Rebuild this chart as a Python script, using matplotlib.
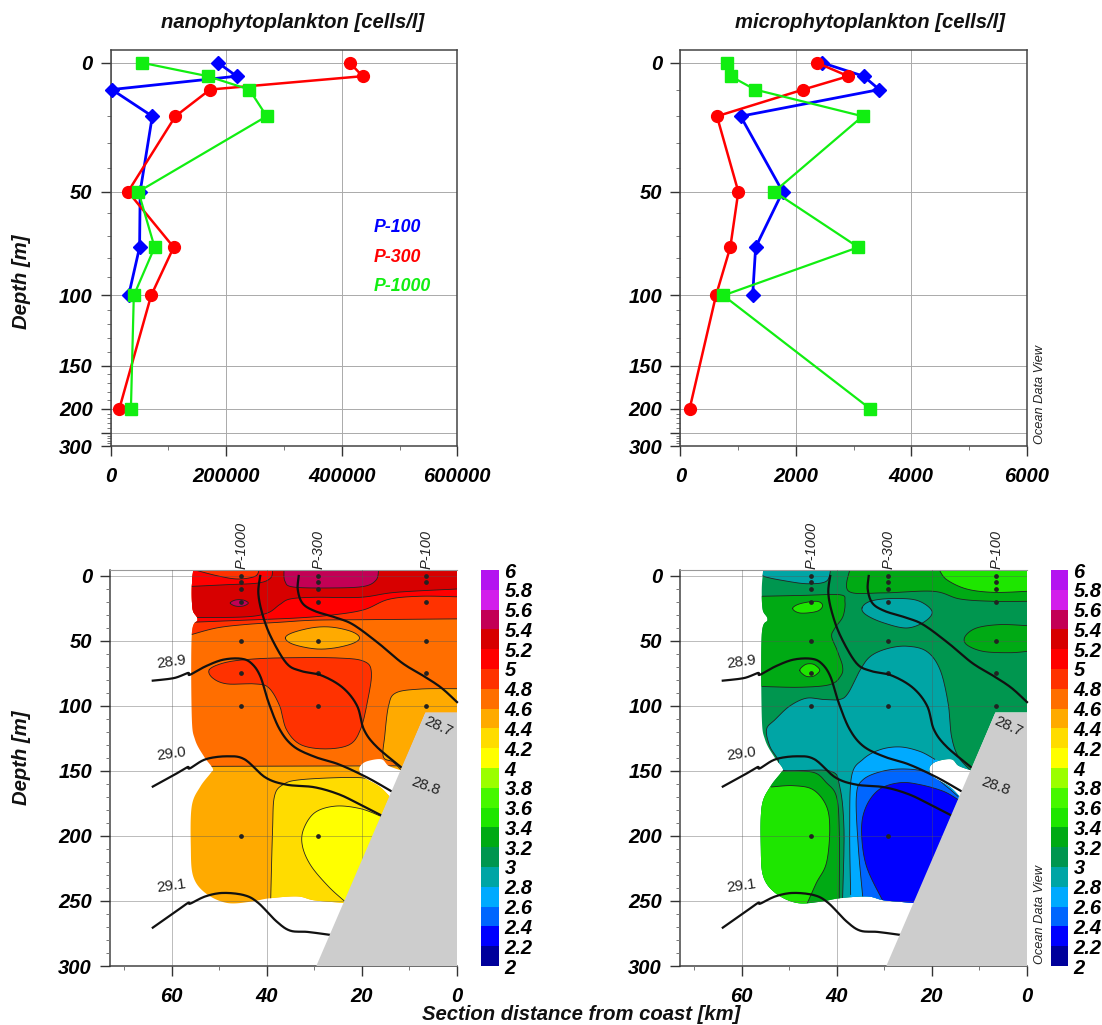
import numpy as np
import matplotlib
matplotlib.use('Agg')
import matplotlib.pyplot as plt
from matplotlib.patches import Polygon

plt.rcParams['font.family'] = ['Liberation Sans', 'DejaVu Sans']

W, H = 1102, 1025

# Profile data (top panels)
depths = [0, 5, 10, 20, 50, 75, 100, 200]
nano_p100 = [186000, 218000, 2000, 72000, 51000, 50000, 31000]
nano_p300 = [414000, 436000, 172000, 112000, 30000, 109000, 70000, 15000]
nano_p1000 = [55000, 168000, 240000, 270000, 48000, 76000, 40000, 35000]
micro_p100 = [2460, 3175, 3447, 1045, 1773, 1305, 1253]
micro_p300 = [2367, 2910, 2130, 635, 1005, 866, 618, 162]
micro_p1000 = [814, 872, 1293, 3158, 1628, 3083, 745, 3285]

# Non linear ODV depth axis of the top panels (depth -> relative position)
scale_depth = [-10, 0, 10, 20, 30, 40, 50, 60, 70, 80, 90, 100, 150, 200, 250, 300, 320]
scale_pos = [-77, 0, 80, 160, 240, 315, 386, 450, 520, 585, 642, 697, 908, 1036, 1110, 1148, 1166]

# Colour bar
cb_levels = [round(2 + 0.2 * i, 1) for i in range(21)]
cb_colors = ['#00009b', '#0000ff', '#0066ff', '#00aaff', '#00a5a5',
             '#00964f', '#00aa14', '#1ee600', '#46f800', '#9bff00',
             '#ffff00', '#ffdc00', '#ffaa00', '#ff6e00', '#ff3200',
             '#ff0000', '#d70000', '#c30055', '#d21eeb', '#b414f0']

# Sections: stations
station_km = [45.4, 29.2, 6.5]
station_names = ['P-1000', 'P-300', 'P-100']
nano_station_depths = [[0, 5, 10, 20, 50, 75, 100, 200], [0, 5, 10, 20, 50, 75, 100, 200], [0, 5, 20, 50, 75, 100]]
micro_station_depths = [[0, 5, 10, 20, 50, 75, 100, 200], [0, 5, 10, 20, 50, 75, 100, 200], [0, 5, 10, 20, 50, 75, 100]]

# Bottom topography
terrain = [(29.6, 300), (6.65, 105), (0, 105), (0, 300)]

# Limit of the gridded field (km, depth)
domain_left = [(55.5, -4.6), (55.8, 10), (55.6, 26), (54.6, 33.6), (55.8, 45), (55.8, 108), (55.1, 126),
               (53.2, 139), (51.4, 148), (51.8, 151.5), (54, 162), (55.8, 177), (56, 208), (55.5, 231),
               (52.9, 244), (48.4, 251.5), (43.3, 250.5), (39.6, 248), (33.6, 246.5), (30, 249.5), (23.7, 251.5)]
domain_notch = [(14.2, 169.5), (16.3, 162), (19.6, 155), (20.5, 150), (20.3, 146), (18.9, 142.5), (15.9, 141),
                (14.4, 146), (11.8, 149.5)]
domain_right = [(6.65, 105), (0, 105), (0, -4.6)]

# Isopycnals, same in both sections
iso_287 = [(33.3, 0), (33.5, 10.5), (32.5, 21), (29.9, 27), (25.5, 32), (21.8, 37.5), (16.6, 51.5),
           (11.5, 67), (7, 77), (3.3, 86), (0, 97)]
iso_288 = [(41.4, 0), (41.8, 13), (41, 28.5), (39.2, 46.5), (35.9, 67), (32.9, 73), (28.5, 76.5),
           (24, 86), (21, 100), (19.6, 118), (17, 131), (11.8, 147)]
iso_289 = [(64, 80.5), (59.5, 78.5), (56.6, 74.6), (56.2, 76), (52.9, 69.5), (49.2, 64.4), (45.5, 63.6),
           (43.3, 67), (41.4, 77), (39.6, 97.7), (37.3, 118), (34.4, 131), (30, 139), (24.8, 145),
           (18.9, 155), (13.8, 165.6)]
iso_290 = [(64, 162), (59.5, 153), (56.7, 147), (56.2, 148), (52.9, 141), (48.4, 138.7), (44.7, 141),
           (40.3, 155), (35.9, 160.5), (30, 162.5), (24.8, 168), (20.3, 176), (16, 184)]
iso_291 = [(64, 270.5), (59.5, 259), (56.6, 251.5), (56.1, 252), (52.9, 246.4), (49.2, 243.8), (44.7, 245.6),
           (41.8, 251.5), (38, 265.6), (35.1, 272.8), (31.4, 273.8), (26.8, 276)]
isolines = [iso_287, iso_288, iso_289, iso_290, iso_291]
iso_labels = [('28.9', 60, 66.4, 8), ('29.0', 60, 136.7, 8), ('29.1', 60, 238.7, 8),
              ('28.7', 4, 115.6, -25), ('28.8', 6.65, 162, -20)]

# Field regions: (band lower value, contour curve, closing points or None for a closed blob)
nano_regions = [
    (4.4, [(70, 300), (70, 146)], [(0, 146), (0, 300)]),
    (4.6, [(60, 146.5), (10, 146)], [(0, 146), (0, -10), (60, -10)]),
    (4.8, [(55.8, 45), (50.6, 40), (44.7, 37.4), (37.3, 35.6), (29.9, 34), (18.9, 33.6), (0, 33)],
     [(0, -10), (60, -10), (60, 45)]),
    (5.0, [(55.8, 35.6), (44.7, 34), (33.6, 32.3), (26.2, 30), (19.6, 26), (14.4, 18), (7.8, 15.6), (0, 16)],
     [(0, -10), (60, -10), (60, 35.6)]),
    (5.2, [(55.8, 32), (44.7, 31.5), (39.9, 28.5), (37.3, 22), (35.1, 17.7), (29.9, 16.4), (20.3, 16.4),
           (12.9, 12.6), (0, 10)], [(0, -10), (60, -10), (60, 32)]),
    (5.0, [(55.8, 8), (48.4, 6.7), (41.8, 5.4), (39.2, 1.5), (38.8, -5)], [(38.8, -10), (60, -10), (60, 8)]),
    (4.8, [(55.5, -5), (50.6, -0.3), (46.2, 2.3), (42.5, 0.3), (41.6, -5)], [(41.6, -10), (55.5, -10)]),
    (5.4, [(36.4, -5), (36.2, 4), (34.4, 8.5), (26.2, 9.2), (19.6, 8), (17, 3), (16.5, -5)],
     [(16.5, -10), (36.4, -10)]),
    (5.4, [(47.7, 20.8), (46.9, 18.8), (45.8, 18.2), (44.7, 18.8), (43.9, 20.8), (44.7, 22.8), (45.8, 23.4), (46.9, 22.8)], None),
    (4.4, [(36.1, 47.7), (34.5, 43.5), (30, 39.6), (26, 39.5), (22, 43), (20.5, 47.7), (22, 52), (26, 55.5),
           (30, 56), (34.5, 52.5)], None),
    (4.8, [(52.1, 72), (49.2, 67), (44.7, 64.4), (37.3, 63), (25.5, 63), (19.6, 65.6), (18, 74.6), (18.9, 97.7),
           (20.3, 118), (22.6, 129.7), (27.7, 133), (32.9, 129.7), (35.9, 118), (37.3, 100), (39.6, 86),
           (42.5, 83), (48.4, 83), (51.4, 78.5)], None),
    (4.4, [(0, 86.7), (7.8, 87), (12.9, 90), (14.4, 100), (15.2, 123), (15.5, 139), (13.5, 143), (11.8, 149)],
     [(5, 150), (0, 150)]),
    (4.2, [(39.2, 250), (38.8, 195), (38.4, 169.5), (36.6, 160.5), (32.9, 156.7), (22.6, 155), (18, 157), (12.9, 167)],
     [(12.9, 300), (39.2, 300)]),
    (4.0, [(15.9, 185), (20.3, 179), (25.5, 177), (29.9, 182), (32.3, 195), (32.5, 208), (30.7, 223), (27, 239),
           (23.7, 250)], [(15, 250)]),
]

micro_regions = [
    (3.0, [(70, 300), (0, 300)], [(0, -10), (70, -10)]),
    (2.8, [(55.5, -5), (55.5, 0), (50.5, 4), (45.9, 6), (42.2, 4), (41.3, -5)], [(41.3, -10), (55.5, -10)]),
    (3.2, [(55.7, 15.6), (47.6, 15), (39.4, 14.4), (38.3, 19.5), (38.7, 31), (40.4, 40), (41.1, 46.4), (40, 56.7),
           (38.8, 69.5), (39.2, 77), (41.5, 83.6), (47.8, 85.6), (55.7, 85)], [(60, 85), (60, 15.6)]),
    (3.4, [(49.3, 25), (47.7, 21.3), (44.2, 19.5), (43, 22.8), (44.2, 27.2), (47.7, 28.5)], None),
    (3.4, [(47.8, 72.5), (46.8, 68.5), (45.7, 67.5), (44.6, 68.5), (43.6, 72.5), (44.6, 76.5), (45.7, 77.5), (46.8, 76.5)], None),
    (3.2, [(37.3, -5), (37.5, 11.8), (30.2, 13), (19.7, 11.8), (14.1, 17.7), (7, 19.5), (0, 19.5)],
     [(0, -10), (37.3, -10)]),
    (3.4, [(18.5, -5), (16.9, 2.8), (12.7, 10), (7, 12.6), (0, 11.8)], [(0, -10), (18.5, -10)]),
    (3.2, [(0, 38.2), (5.7, 37.4), (10.6, 40), (13, 46.4), (12.7, 52.8), (9.2, 58), (3.6, 59), (0, 58)], []),
    (2.8, [(34.7, 24.6), (33, 19.5), (28.8, 17.4), (23.2, 18.7), (20, 27), (21.5, 35), (25.3, 40), (30.2, 36),
           (33.8, 30)], None),
    (2.8, [(38.8, 249), (38.5, 195), (39.4, 162), (41.5, 150), (51.4, 149.5), (52.4, 141), (54.1, 131), (54.8, 118),
           (53, 110.5), (49.9, 100), (46.4, 94), (42.9, 95), (39.4, 95), (37.6, 90), (35.2, 73), (33, 62), (29.5, 56),
           (25.3, 54), (21.1, 58), (18.3, 72), (16.6, 97.7), (15.9, 123), (14.5, 138.7), (11.9, 149.5)],
     [(10, 150), (10, 300), (38.8, 300)]),
    (2.6, [(37.1, 245), (37.3, 195), (36.9, 154), (34.5, 141), (30.9, 133.6), (26.7, 131.5), (22.5, 135), (19.4, 141)],
     [(12, 150), (10, 300), (37.1, 300)]),
    (2.4, [(34.5, 249), (35.5, 208), (35.9, 169.5), (34.5, 156.7), (30.2, 150), (25.3, 148.5), (20.8, 151.5),
           (16.9, 162), (14.5, 169.5)], [(10, 300), (34.5, 300)]),
    (2.2, [(30.1, 251.5), (33.8, 223), (34.8, 195), (33.8, 177), (31, 164), (26.7, 159), (22.5, 160.5), (17.6, 165.6),
           (14.5, 172)], [(10, 300), (30.1, 300)]),
    (3.2, [(51.4, 150), (45, 151), (42.2, 159), (40.1, 169.5), (39.5, 195), (39.5, 249)],
     [(39.5, 300), (60, 300), (60, 150)]),
    (3.4, [(53.8, 162.3), (49.2, 161.3), (45, 164.4), (42.2, 177), (41.5, 195), (42.2, 220.8), (44.3, 236), (46.2, 251.5)],
     [(46.2, 300), (60, 300), (60, 162)]),
]


def px_axes(fig, left, top, right, bottom):
    return fig.add_axes([left / W, 1 - bottom / H, (right - left) / W, (bottom - top) / H])


def smooth(points, closed=False, n=14):
    # Catmull-Rom through the points
    p = np.array(points, dtype=float)
    if closed:
        p = np.vstack([p[-1], p, p[0], p[1]])
    else:
        p = np.vstack([p[0], p, p[-1]])
    out = []
    t = np.linspace(0, 1, n, endpoint=False)[:, None]
    for i in range(1, len(p) - 2):
        a, b, c, d = p[i - 1], p[i], p[i + 1], p[i + 2]
        out.append(0.5 * (2 * b + (c - a) * t + (2 * a - 5 * b + 4 * c - d) * t ** 2
                          + (3 * b - a - 3 * c + d) * t ** 3))
    out.append(p[-2][None, :])
    return np.vstack(out)


tick_font = dict(fontsize=14.5, fontweight='bold', fontstyle='italic')


def style_ticks(ax):
    ax.tick_params(axis='x', which='major', length=7, width=1, color='#333333', pad=8)
    ax.tick_params(axis='y', which='major', length=7, width=1, color='#333333', pad=6)
    ax.tick_params(axis='both', which='minor', length=3, width=0.7, color='#777777')
    for label in ax.get_xticklabels() + ax.get_yticklabels():
        label.set(**tick_font)
    ax.grid(True, which='major', color='#aaaaaa', lw=0.7)


def profile_panel(ax, p100, p300, p1000, xticks, xminor):
    ax.set_yscale('function', functions=(lambda d: np.interp(d, scale_depth, scale_pos),
                                         lambda s: np.interp(s, scale_pos, scale_depth)))
    ax.plot(p100, depths[:len(p100)], '-D', color='#0000ff', lw=2, ms=7.5, clip_on=False, zorder=3)
    ax.plot(p300, depths, '-o', color='#ff0000', lw=1.8, ms=8.5, clip_on=False, zorder=4)
    ax.plot(p1000, depths, '-s', color='#11ee11', lw=1.6, ms=8, clip_on=False, zorder=5)
    ax.set_xlim(xticks[0], xticks[-1])
    ax.set_ylim(300, -5)
    ax.set_xticks(xticks)
    ax.set_xticklabels([str(v) for v in xticks])
    ax.set_xticks(xminor, minor=True)
    ax.set_yticks([0, 50, 100, 150, 200, 250, 300])
    ax.set_yticklabels(['0', '50', '100', '150', '200', '', '300'])
    ax.set_yticks(np.arange(10, 300, 10), minor=True)
    style_ticks(ax)
    for s in ax.spines.values():
        s.set_color('#444444')
        s.set_linewidth(1.1)


def section_panel(ax, regions, station_depths):
    outline = np.vstack([smooth(domain_left), smooth(domain_notch), domain_right])
    clip = Polygon(outline, closed=True, transform=ax.transData, fc='none', ec='none')
    ax.add_patch(clip)
    for i, (value, curve, closing) in enumerate(regions):
        line = smooth(curve, closing is None)
        poly = line if not closing else np.vstack([line, closing])
        color = cb_colors[int(round((value - 2) / 0.2))]
        fill = ax.fill(poly[:, 0], poly[:, 1], color=color, lw=0, zorder=1 + i * 0.01)[0]
        fill.set_clip_path(clip)
        edge = ax.plot(line[:, 0], line[:, 1], color='#222222', lw=0.6, zorder=1 + i * 0.01 + 0.005)[0]
        edge.set_clip_path(clip)
    for km, ds in zip(station_km, station_depths):
        ax.plot([km] * len(ds), ds, 'o', color='#222222', ms=2.4, zorder=3, clip_on=False)
    for iso in isolines:
        line = smooth(iso)
        ax.plot(line[:, 0], line[:, 1], color='#111111', lw=1.6, zorder=4, clip_on=False)
    t = np.array(terrain)
    ax.fill(t[:, 0], t[:, 1], color='#cdcdcd', lw=0, zorder=5)
    for text, km, d, rot in iso_labels:
        ax.text(km, d, text, fontsize=11, rotation=rot, ha='center', va='center', color='#222222', zorder=6)
    for km, name in zip(station_km, station_names):
        ax.text(km, -5, name, fontsize=10.5, fontstyle='italic', rotation=90, ha='center', va='bottom',
                color='#222222')
    ax.set_xlim(73, 0)
    ax.set_ylim(300, -4.6)
    ax.set_xticks([60, 40, 20, 0])
    ax.set_xticks([70, 50, 30, 10], minor=True)
    ax.set_yticks(np.arange(0, 301, 50))
    ax.set_yticks(np.arange(10, 300, 10), minor=True)
    style_ticks(ax)
    ax.set_axisbelow(False)
    ax.grid(True, which='major', color='#555555', lw=0.5, alpha=0.55, zorder=2)
    ax.spines['right'].set_visible(False)
    ax.spines['top'].set_color('#999999')
    ax.spines['left'].set_color('#444444')
    ax.spines['bottom'].set_color('#444444')
    ax.spines['left'].set_linewidth(1.1)
    ax.spines['bottom'].set_linewidth(1.1)


def colour_bar(cax):
    cax.barh(cb_levels[:-1], 1, height=0.2, align='edge', color=cb_colors, lw=0)
    cax.set_xlim(0, 1)
    cax.set_ylim(2, 6)
    cax.set_xticks([])
    cax.yaxis.tick_right()
    cax.set_yticks(cb_levels)
    cax.set_yticklabels([f'{v:g}' for v in cb_levels], fontsize=14.5, fontweight='bold', fontstyle='italic')
    cax.tick_params(axis='y', length=0, pad=4)
    for s in cax.spines.values():
        s.set_visible(False)


fig = plt.figure(figsize=(W / 100, H / 100), dpi=100)

ax1 = px_axes(fig, 110.7, 50, 457.3, 446)
profile_panel(ax1, nano_p100, nano_p300, nano_p1000, [0, 200000, 400000, 600000], [100000, 300000, 500000])
ax2 = px_axes(fig, 680.3, 50, 1026.7, 446)
profile_panel(ax2, micro_p100, micro_p300, micro_p1000, [0, 2000, 4000, 6000], [1000, 3000, 5000])

for name, color, y in [('P-100', '#0000ff', 0.552), ('P-300', '#ff0000', 0.475), ('P-1000', '#11ee11', 0.402)]:
    ax1.text(0.76, y, name, color=color, transform=ax1.transAxes, fontsize=12.8, fontweight='bold',
             fontstyle='italic', va='center')

ax3 = px_axes(fig, 110, 570, 457, 966)
section_panel(ax3, nano_regions, nano_station_depths)
ax4 = px_axes(fig, 680, 570, 1027, 966)
section_panel(ax4, micro_regions, micro_station_depths)

colour_bar(px_axes(fig, 481, 570, 499, 966))
colour_bar(px_axes(fig, 1051, 570, 1068, 966))

label_font = dict(fontsize=14.6, fontweight='bold', fontstyle='italic', color='#111111', ha='center', va='center')
fig.text(293 / W, 1 - 23 / H, 'nanophytoplankton [cells/l]', **label_font)
fig.text(870 / W, 1 - 23 / H, 'microphytoplankton [cells/l]', **label_font)
fig.text(22 / W, 1 - 282 / H, 'Depth [m]', rotation=90, **label_font)
fig.text(22 / W, 1 - 758 / H, 'Depth [m]', rotation=90, **label_font)
fig.text(581 / W, 1 - 1015 / H, 'Section distance from coast [km]', **label_font)
for y in [394, 914]:
    fig.text(1040 / W, 1 - y / H, 'Ocean Data View', rotation=90, fontsize=9.2, fontstyle='italic',
             ha='center', va='center', color='#222222')

fig.savefig('out.png', dpi=100)
